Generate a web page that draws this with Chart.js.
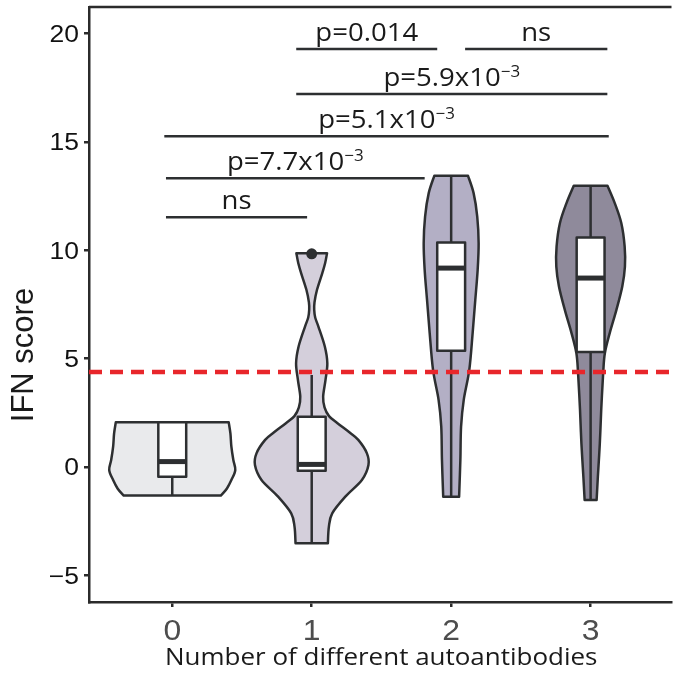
<!DOCTYPE html>
<html>
<head>
<meta charset="utf-8">
<script src="https://cdn.jsdelivr.net/npm/chart.js@4.4.0/dist/chart.umd.min.js"></script>
<style>
    html, body { margin: 0; padding: 0; background: #fff; overflow: hidden; }
    #chart { display: block; }
</style>
</head>
<body>
<canvas id="chart" width="677" height="687"></canvas>
<script>
const categories = ["0", "1", "2", "3"];
const yTicks = [-5, 0, 5, 10, 15, 20];
const yTitle = "IFN score";
const xTitle = "Number of different autoantibodies";

// violin outlines: score levels (top to bottom) and half widths in category units
const violinLevels0 = [2.06, 1.55, 0.94, 0.32, -0.14, -0.6, -1.0, -1.32];
const violinWidths0 = [0.405, 0.417, 0.424, 0.438, 0.452, 0.424, 0.391, 0.348];
const violinLevels1 = [9.87, 9.4, 8.95, 8.18, 7.6, 7.25, 6.9, 6.48, 5.56, 4.79, 4.02, 3.25, 2.75, 2.35, 2.02, 1.6, 1.25, 0.63, 0.09, -0.6, -1.37, -2.14, -2.76, -3.52];
const violinWidths1 = [0.110, 0.096, 0.076, 0.038, 0.020, 0.018, 0.025, 0.048, 0.094, 0.112, 0.099, 0.082, 0.092, 0.124, 0.185, 0.270, 0.334, 0.396, 0.407, 0.360, 0.241, 0.147, 0.123, 0.116];
const violinLevels2 = [13.44, 12.64, 11.56, 10.33, 9.1, 7.71, 6.18, 4.48, 3.09, 1.86, 0.32, -1.37];
const violinWidths2 = [0.121, 0.161, 0.187, 0.197, 0.190, 0.173, 0.154, 0.130, 0.090, 0.071, 0.066, 0.057];
const violinLevels3 = [12.98, 12.18, 11.26, 10.18, 9.25, 8.33, 7.25, 6.18, 5.25, 4.33, 2.63, 1.09, -0.45, -1.52];
const violinWidths3 = [0.121, 0.173, 0.220, 0.244, 0.246, 0.227, 0.185, 0.137, 0.102, 0.090, 0.076, 0.066, 0.052, 0.043];

// box plot statistics per group
const boxLower = [-0.45, -0.17, 5.36, 5.31];
const boxMedian = [0.25, 0.12, 9.18, 8.72];
const boxUpper = [2.06, 2.32, 10.36, 10.59];
const whiskerLow = [-1.32, -3.52, -1.37, -1.52];
const whiskerHigh = [2.06, 4.25, 13.44, 12.98];
const outlierPoints = [{ x: 1, y: 9.84 }];
const threshold = 4.39;

// significance bars
const bracketFrom = [-0.045, -0.045, -0.057, 0.889, 0.889, 2.10];
const bracketTo = [0.967, 1.81, 3.13, 3.12, 1.90, 3.12];
const bracketLevel = [11.53, 13.33, 15.27, 17.21, 19.29, 19.29];
const bracketLabel = ["ns", "p=7.7x10", "p=5.1x10", "p=5.9x10", "p=0.014", "ns"];
const bracketExponent = ["", "\u22123", "\u22123", "\u22123", "", ""];

const violinLevels = [violinLevels0, violinLevels1, violinLevels2, violinLevels3];
const violinWidths = [violinWidths0, violinWidths1, violinWidths2, violinWidths3];
const violinFills = ["#e9eaec", "#d4cfdb", "#b3afc5", "#8f8a9b"];
const inkColor = "#2d2f31";
const boxHalf = 0.1;
const xMin = -0.597, xMax = 3.58, yMin = -6.23, yMax = 21.23;

function smoothTo(ctx, pts) {
    for (let i = 0; i < pts.length - 1; i++) {
        const p0 = pts[Math.max(i - 1, 0)];
        const p1 = pts[i];
        const p2 = pts[i + 1];
        const p3 = pts[Math.min(i + 2, pts.length - 1)];
        ctx.bezierCurveTo(
            p1[0] + (p2[0] - p0[0]) / 6, p1[1] + (p2[1] - p0[1]) / 6,
            p2[0] - (p3[0] - p1[0]) / 6, p2[1] - (p3[1] - p1[1]) / 6,
            p2[0], p2[1]);
    }
}

function stretchedText(ctx, text, x, y, font, sx, align) {
    ctx.save();
    ctx.font = font;
    const w = ctx.measureText(text).width * sx;
    let left = x;
    if (align === "center") left = x - w / 2;
    else if (align === "right") left = x - w;
    ctx.translate(left, y);
    ctx.scale(sx, 1);
    ctx.textAlign = "left";
    ctx.textBaseline = "alphabetic";
    ctx.fillText(text, 0, 0);
    ctx.restore();
    return w;
}

function measureStretched(ctx, text, font, sx) {
    ctx.save();
    ctx.font = font;
    const w = ctx.measureText(text).width * sx;
    ctx.restore();
    return w;
}

const violinPlugin = {
    id: "violins",
    beforeDatasetsDraw(chart) {
        const ctx = chart.ctx;
        const xs = chart.scales.x;
        const ys = chart.scales.y;
        ctx.save();
        ctx.lineJoin = "round";
        ctx.strokeStyle = inkColor;
        categories.forEach((c, i) => {
            const levels = violinLevels[i];
            const widths = violinWidths[i];
            const left = levels.map((v, k) => [xs.getPixelForValue(i - widths[k]), ys.getPixelForValue(v)]);
            const right = levels.map((v, k) => [xs.getPixelForValue(i + widths[k]), ys.getPixelForValue(v)]).reverse();
            ctx.beginPath();
            ctx.moveTo(left[0][0], left[0][1]);
            smoothTo(ctx, left);
            ctx.lineTo(right[0][0], right[0][1]);
            smoothTo(ctx, right);
            ctx.closePath();
            ctx.fillStyle = violinFills[i];
            ctx.fill();
            ctx.lineWidth = 2.5;
            ctx.stroke();

            const cx = xs.getPixelForValue(i);
            const bl = xs.getPixelForValue(i - boxHalf);
            const br = xs.getPixelForValue(i + boxHalf);
            const yTop = ys.getPixelForValue(boxUpper[i]);
            const yBot = ys.getPixelForValue(boxLower[i]);
            ctx.beginPath();
            ctx.moveTo(cx, ys.getPixelForValue(whiskerHigh[i]));
            ctx.lineTo(cx, yTop);
            ctx.moveTo(cx, yBot);
            ctx.lineTo(cx, ys.getPixelForValue(whiskerLow[i]));
            ctx.stroke();
            ctx.fillStyle = "#ffffff";
            ctx.fillRect(bl, yTop, br - bl, yBot - yTop);
            ctx.strokeRect(bl, yTop, br - bl, yBot - yTop);
            ctx.beginPath();
            ctx.lineWidth = 5;
            const ym = ys.getPixelForValue(boxMedian[i]);
            ctx.moveTo(bl, ym);
            ctx.lineTo(br, ym);
            ctx.stroke();
        });

        // significance bars and labels
        ctx.lineWidth = 2.5;
        ctx.fillStyle = "#1a1a1a";
        const mainFont = "26px 'Open Sans'";
        const expFont = "16px 'Open Sans'";
        bracketLabel.forEach((label, k) => {
            const x1 = xs.getPixelForValue(bracketFrom[k]);
            const x2 = xs.getPixelForValue(bracketTo[k]);
            const y = ys.getPixelForValue(bracketLevel[k]);
            ctx.beginPath();
            ctx.moveTo(x1, y);
            ctx.lineTo(x2, y);
            ctx.stroke();
            const wMain = measureStretched(ctx, label, mainFont, 1.06);
            const wExp = bracketExponent[k] ? measureStretched(ctx, bracketExponent[k], expFont, 1.06) : 0;
            const start = (x1 + x2) / 2 - (wMain + wExp) / 2;
            const base = y - 8.5;
            stretchedText(ctx, label, start, base, mainFont, 1.06, "left");
            if (wExp) stretchedText(ctx, bracketExponent[k], start + wMain, base - 8.5, expFont, 1.06, "left");
        });
        ctx.restore();
    },
    afterDraw(chart) {
        const ctx = chart.ctx;
        const xs = chart.scales.x;
        const ys = chart.scales.y;
        const area = chart.chartArea;
        ctx.save();
        ctx.strokeStyle = "#2b2b2b";
        ctx.lineWidth = 2.5;
        ctx.beginPath();
        ctx.moveTo(area.left, area.top);
        ctx.lineTo(area.right, area.top);
        ctx.stroke();

        ctx.fillStyle = "#111111";
        yTicks.forEach(t => {
            const label = t < 0 ? "\u2212" + Math.abs(t) : String(t);
            stretchedText(ctx, label, 79, ys.getPixelForValue(t) + 8.2, "23px 'Liberation Sans'", 1.15, "right");
        });
        ctx.fillStyle = "#4d4d4d";
        categories.forEach((c, i) => {
            stretchedText(ctx, c, xs.getPixelForValue(i), 640, "29px 'Liberation Sans'", 1.1, "center");
        });

        ctx.fillStyle = "#1a1a1a";
        stretchedText(ctx, xTitle, (area.left + area.right) / 2 + 1, 665, "24.5px 'Open Sans'", 1.06, "center");

        ctx.translate(33.3, 355);
        ctx.rotate(-Math.PI / 2);
        ctx.font = "31px 'Liberation Sans'";
        ctx.textAlign = "center";
        ctx.textBaseline = "alphabetic";
        ctx.fillText(yTitle, 0, 0);
        ctx.restore();
    }
};

new Chart(document.getElementById("chart"), {
    type: "scatter",
    data: {
        datasets: [
            {
                type: "scatter",
                data: outlierPoints,
                pointRadius: 5.5,
                pointBackgroundColor: inkColor,
                pointBorderWidth: 0
            },
            {
                type: "line",
                data: [{ x: xMin, y: threshold }, { x: xMax, y: threshold }],
                borderColor: "#e8262b",
                borderWidth: 4.5,
                borderDash: [13, 8],
                pointRadius: 0,
                fill: false
            }
        ]
    },
    options: {
        responsive: false,
        animation: false,
        devicePixelRatio: 1,
        layout: { padding: { top: 7, left: 0, right: 0, bottom: 0 } },
        plugins: { legend: { display: false }, tooltip: { enabled: false } },
        scales: {
            x: {
                type: "linear",
                min: xMin,
                max: xMax,
                afterBuildTicks: scale => { scale.ticks = categories.map((c, i) => ({ value: i })); },
                afterFit: scale => { scale.height = 85; },
                ticks: { display: false },
                grid: { drawOnChartArea: false, drawTicks: true, tickLength: 5, color: "#2b2b2b", lineWidth: 2.5 },
                border: { display: true, color: "#2b2b2b", width: 2.5 }
            },
            y: {
                type: "linear",
                min: yMin,
                max: yMax,
                afterBuildTicks: scale => { scale.ticks = yTicks.map(v => ({ value: v })); },
                afterFit: scale => { scale.width = 89; },
                ticks: { display: false },
                grid: { drawOnChartArea: false, drawTicks: true, tickLength: 5, color: "#2b2b2b", lineWidth: 2.5 },
                border: { display: true, color: "#2b2b2b", width: 2.5 }
            }
        }
    },
    plugins: [violinPlugin]
});
</script>
</body>
</html>
